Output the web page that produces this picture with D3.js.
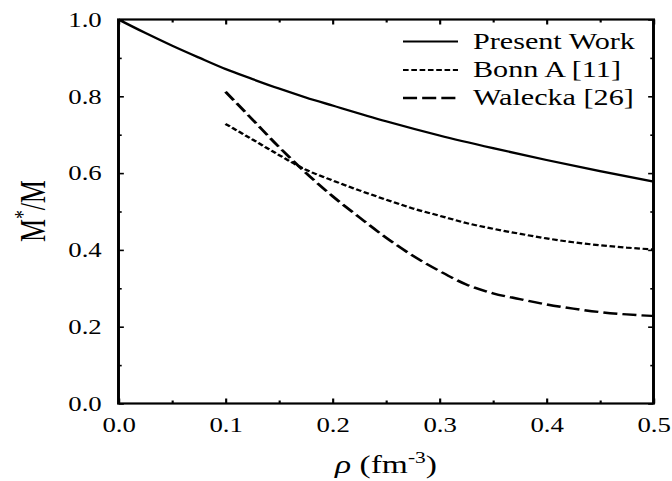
<!DOCTYPE html>
<html>
<head>
<meta charset="utf-8">
<script src="https://cdn.jsdelivr.net/npm/d3@7"></script>
<style>
  html, body { margin: 0; padding: 0; background: #fff; }
  svg { display: block; }
  svg text { fill: #000; }
</style>
</head>
<body>
<svg id="chart" width="672" height="481"></svg>
<script>
// Effective nucleon mass ratio M*/M versus density rho (fm^-3)
const rhoPresent = [0, 0.025, 0.05, 0.075, 0.1, 0.125, 0.15, 0.175, 0.2, 0.25, 0.3, 0.35, 0.4, 0.45, 0.5];
const mPresent   = [1.0, 0.965, 0.932, 0.901, 0.871, 0.845, 0.820, 0.797, 0.776, 0.735, 0.698, 0.665, 0.634, 0.605, 0.578];

const rhoBonn = [0.1, 0.125, 0.15, 0.175, 0.2, 0.225, 0.25, 0.275, 0.3, 0.325, 0.35, 0.375, 0.4, 0.425, 0.45, 0.475, 0.5];
const mBonn   = [0.728, 0.688, 0.647, 0.609, 0.581, 0.555, 0.531, 0.508, 0.489, 0.470, 0.455, 0.442, 0.430, 0.420, 0.412, 0.406, 0.401];

const rhoWalecka = [0.1, 0.125, 0.15, 0.175, 0.2, 0.225, 0.25, 0.275, 0.3, 0.325, 0.35, 0.375, 0.4, 0.425, 0.45, 0.475, 0.5];
const mWalecka   = [0.812, 0.740, 0.668, 0.601, 0.540, 0.485, 0.432, 0.385, 0.345, 0.310, 0.287, 0.272, 0.258, 0.247, 0.238, 0.232, 0.228];

const seriesNames = ["Present Work", "Bonn A [11]", "Walecka [26]"];
const xTicks = [0, 0.1, 0.2, 0.3, 0.4, 0.5];
const xMinor = [0.05, 0.15, 0.25, 0.35, 0.45];
const yTicks = [0, 0.2, 0.4, 0.6, 0.8, 1.0];
const yMinor = [0.1, 0.3, 0.5, 0.7, 0.9];

// The drawing uses a horizontally widened coordinate system
const stretch = 1.34;
const W = 672 / stretch, H = 481;
const svg = d3.select("#chart")
  .attr("viewBox", `0 0 ${W} ${H}`)
  .attr("preserveAspectRatio", "none");

const plotL = 118.5 / stretch, plotR = 653.5 / stretch, plotT = 19.5, plotB = 403.5;
const x = d3.scaleLinear().domain([0, 0.5]).range([plotL, plotR]);
const y = d3.scaleLinear().domain([0, 1.0]).range([plotB, plotT]);

const fmt = d3.format(".1f");
const serif = "Liberation Serif";

// axes with inward ticks on all four sides
function styleAxis(g) {
  g.attr("font-family", serif);
  g.select(".domain").remove();
  g.selectAll(".tick line").attr("stroke", "#000").attr("stroke-width", 1.6);
  g.selectAll(".tick text").attr("font-size", 20).attr("font-family", serif);
}

svg.append("g").attr("transform", `translate(0,${plotB})`)
  .call(d3.axisBottom(x).tickValues(xTicks).tickSize(-5).tickFormat(fmt))
  .call(styleAxis)
  .call(g => g.selectAll(".tick text").attr("dy", 0).attr("y", 28.5));
svg.append("g").attr("transform", `translate(0,${plotB})`)
  .call(d3.axisBottom(x).tickValues(xMinor).tickSize(-3).tickFormat(""))
  .call(styleAxis);
svg.append("g").attr("transform", `translate(0,${plotT})`)
  .call(d3.axisTop(x).tickValues(xTicks).tickSize(-5).tickFormat(""))
  .call(styleAxis);
svg.append("g").attr("transform", `translate(0,${plotT})`)
  .call(d3.axisTop(x).tickValues(xMinor).tickSize(-3).tickFormat(""))
  .call(styleAxis);

svg.append("g").attr("transform", `translate(${plotL},0)`)
  .call(d3.axisLeft(y).tickValues(yTicks).tickSize(-4).tickFormat(fmt))
  .call(styleAxis)
  .call(g => g.selectAll(".tick text").attr("x", -(118.5 - 101.7) / stretch).attr("dy", "0.34em"));
svg.append("g").attr("transform", `translate(${plotL},0)`)
  .call(d3.axisLeft(y).tickValues(yMinor).tickSize(-2.4).tickFormat(""))
  .call(styleAxis);
svg.append("g").attr("transform", `translate(${plotR},0)`)
  .call(d3.axisRight(y).tickValues(yTicks).tickSize(-4).tickFormat(""))
  .call(styleAxis);
svg.append("g").attr("transform", `translate(${plotR},0)`)
  .call(d3.axisRight(y).tickValues(yMinor).tickSize(-2.4).tickFormat(""))
  .call(styleAxis);

// frame
svg.append("rect")
  .attr("x", plotL).attr("y", plotT)
  .attr("width", plotR - plotL).attr("height", plotB - plotT)
  .attr("fill", "none").attr("stroke", "#000").attr("stroke-width", 2.2);

// curves
const line = d3.line()
  .x(d => x(d[0])).y(d => y(d[1]))
  .curve(d3.curveMonotoneX);

const series = [
  { name: seriesNames[0], xs: rhoPresent, ys: mPresent, dash: null, width: 2.2 },
  { name: seriesNames[1], xs: rhoBonn, ys: mBonn, dash: "4.2,2", width: 2.2 },
  { name: seriesNames[2], xs: rhoWalecka, ys: mWalecka, dash: "10.5,3.8", width: 2.4 }
];

series.forEach(s => {
  svg.append("path")
    .datum(d3.zip(s.xs, s.ys))
    .attr("d", line)
    .attr("fill", "none")
    .attr("stroke", "#000")
    .attr("stroke-width", s.width)
    .attr("stroke-dasharray", s.dash);
});

// legend
const legX0 = 403 / stretch, legX1 = 458 / stretch, legText = 473 / stretch;
const legY = [41.5, 70, 98];
series.forEach((s, i) => {
  svg.append("line")
    .attr("x1", legX0).attr("x2", legX1)
    .attr("y1", legY[i]).attr("y2", legY[i])
    .attr("stroke", "#000").attr("stroke-width", s.width)
    .attr("stroke-dasharray", s.dash);
  svg.append("text")
    .attr("x", legText).attr("y", legY[i] + 7.5)
    .attr("font-family", serif)
    .attr("font-size", 22.5)
    .text(s.name);
});

// axis titles
const xt = svg.append("text")
  .attr("x", x(0.25)).attr("y", 473)
  .attr("text-anchor", "middle")
  .attr("font-family", serif)
  .attr("font-size", 25);
xt.append("tspan").attr("font-style", "italic").text("\u03C1");
xt.append("tspan").text(" (fm");
xt.append("tspan").attr("font-size", 16).attr("dy", -10).text("-3");
xt.append("tspan").attr("dy", 10).text(")");

const yt = svg.append("text")
  .attr("transform", `translate(${45 / stretch},${211}) rotate(-90)`)
  .attr("text-anchor", "middle")
  .attr("font-family", serif)
  .attr("font-size", 26);
yt.append("tspan").text("M");
yt.append("tspan").attr("font-size", 17).attr("dy", -11).text("*");
yt.append("tspan").attr("dy", 11).text("/M");
</script>
</body>
</html>
